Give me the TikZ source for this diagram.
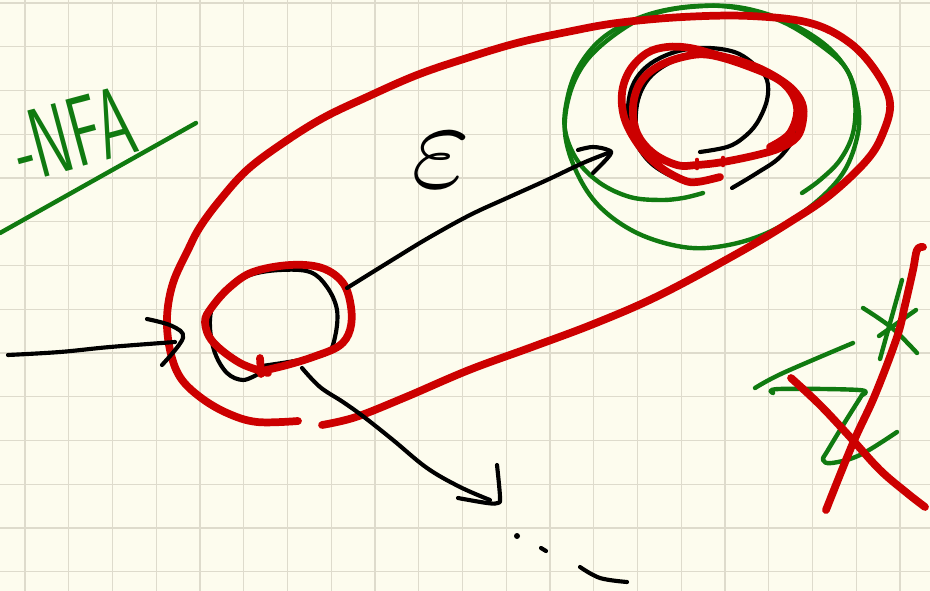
\documentclass[tikz,border=0pt]{standalone}
\usepackage{graphicx}
\definecolor{paper}{HTML}{FDFCEE}
\definecolor{gridc}{HTML}{DEDBCC}
\definecolor{inkred}{HTML}{CC0000}
\definecolor{inkgreen}{HTML}{107A10}
\begin{document}
\begin{tikzpicture}[x=0.75pt,y=-0.75pt, line cap=round, line join=round,
  redink/.style={draw=inkred, line width=5.8pt},
  blackink/.style={draw=black, line width=3.1pt},
  greenink/.style={draw=inkgreen, line width=3.3pt},
  sm/.style={smooth, tension=0.6}]
\fill[paper] (0,0) rectangle (930,591);
\useasboundingbox (0,0) rectangle (930,591);
% grid
\foreach \i in {0,...,20} \draw[gridc, line width=0.8pt] ({25+43.75*\i},0) -- ({25+43.75*\i},591);
\foreach \j in {0,...,13} \draw[gridc, line width=0.8pt] (0,{3+43.75*\j}) -- (930,{3+43.75*\j});

% title
\node[text=inkgreen, rotate=15, inner sep=0pt] (title) at (73,134)
  {\fontsize{74}{74}\selectfont\sffamily\scalebox{0.6}[1]{-NFA}};
\draw[greenink] (0,233) -- (196,123);

% left state
\coordinate (q0) at (276,320);
\draw[blackink] plot[sm] coordinates {(258,374) (243,380) (227,373) (215,353) (210,327) (213,305) (227,288) (250,275) (280,270) (310,272) (327,287) (337,310) (335,337) (327,353) (300,360) (262,366)};
\draw[redink] (260,358) -- (261,374);
\draw[redink] plot[sm] coordinates {(268,373) (240,363) (213,342) (205,322) (212,307) (230,287) (253,272) (290,265) (322,268) (343,283) (351,307) (350,330) (339,346) (313,357) (287,365) (262,371)};

% right state
\coordinate (q1) at (712,115);
\draw[blackink] plot[sm] coordinates {(700,152) (727,147) (743,138) (757,123) (767,100) (767,80) (757,67) (737,53) (710,48) (683,50) (660,58) (643,70) (632,87) (628,110) (632,133) (640,150) (653,165) (673,177) (690,182)};
\draw[blackink] plot[sm] coordinates {(650,160) (637,132) (638,100) (652,75) (680,58) (708,53)};
\draw[blackink] plot[sm] coordinates {(732,188) (757,173) (780,157) (797,133) (798,117)};
\draw[redink] plot[sm] coordinates {(720,177) (697,182) (683,180) (660,167) (640,147) (625,120) (622,93) (630,70) (647,53) (667,47) (690,48) (717,55) (743,62) (767,72) (790,87) (802,103) (803,120) (797,137) (780,148) (757,155) (723,162) (697,165) (677,165) (653,153) (637,133) (633,107) (640,83) (657,67) (683,57) (710,55) (750,67) (783,83) (797,107) (790,133) (770,147)};
\draw[redink, line width=3.5pt] (697,160) -- (697,168) (723,158) -- (723,165);
\draw[greenink] plot[sm] coordinates {(703,193) (683,198) (660,200) (630,197) (600,183) (577,160) (565,130) (567,100) (577,70) (597,43) (623,25) (657,12) (697,6) (737,8) (783,22) (823,47) (847,70) (855,100) (853,133) (840,160) (820,180) (802,193)};
\draw[greenink] plot[smooth cycle, tension=0.6] coordinates {(570,93) (565,133) (577,173) (600,207) (637,233) (683,247) (723,246) (767,233) (810,207) (843,173) (858,133) (857,100) (847,70) (823,43) (783,20) (737,7) (690,7) (650,15) (617,33) (587,60)};

% big red closure
\draw[redink] plot[sm] coordinates {(298,421) (257,422) (227,413) (200,397) (180,377) (170,350) (167,317) (173,283) (188,250) (200,227) (220,200) (247,170) (283,143) (323,118) (367,97) (417,75) (467,58) (517,43) (567,32) (617,23) (683,17) (750,16) (810,23) (850,43) (877,73) (890,103) (883,133) (867,160) (830,195) (790,222) (740,252) (660,295) (596,323) (532,347) (469,370) (406,397) (356,417) (322,425)};

% initial arrow
\coordinate (s) at (8,355);
\draw[blackink] plot[sm] coordinates {(s) (60,352) (110,347) (175,342)};
\draw[blackink] plot[sm] coordinates {(147,319) (172,326) (183,338) (162,365)};

% epsilon transition
\draw[blackink] plot[sm] coordinates {(347,288) (397,257) (430,237) (470,215) (507,198) (547,180) (583,163) (608,153)};
\draw[blackink] plot[sm] coordinates {(578,150) (593,147) (608,150) (610,155) (593,173)};
\node[inner sep=0pt] (eps) at (441,160) {\scalebox{9.5}{$\varepsilon$}};

% other transition
\draw[blackink] plot[sm] coordinates {(302,368) (320,387) (343,402) (364,417) (393,440) (427,468) (460,487) (490,500)};
\draw[blackink] plot[sm] coordinates {(458,498) (487,503) (498,503) (500,497) (497,465)};
\fill (517,536) circle (3);
\draw[blackink] (541,548) -- (546,551);
\draw[blackink] plot[sm] coordinates {(580,567) (600,578) (627,582)};

% crossed-out symbol
\draw[greenink] plot[sm] coordinates {(755,388) (783,373) (853,343)};
\draw[greenink] plot[sm] coordinates {(773,393) (779,389) (859,390) (862,395)};
\draw[greenink] plot[sm] coordinates {(862,395) (845,422) (828,450) (823,460) (832,463) (860,455) (897,432)};
\draw[greenink] (902,280) -- (880,359);
\draw[greenink] plot[sm] coordinates {(863,308) (892,328) (917,353)};
\draw[greenink] (879,336) -- (916,310);
\draw[redink] plot[sm] coordinates {(923,247) (917,250) (913,270) (905,305) (897,337) (875,395) (853,443) (826,510)};
\draw[redink] plot[sm] coordinates {(791,378) (820,405) (850,437) (880,470) (907,493) (925,507)};
\end{tikzpicture}
\end{document}
